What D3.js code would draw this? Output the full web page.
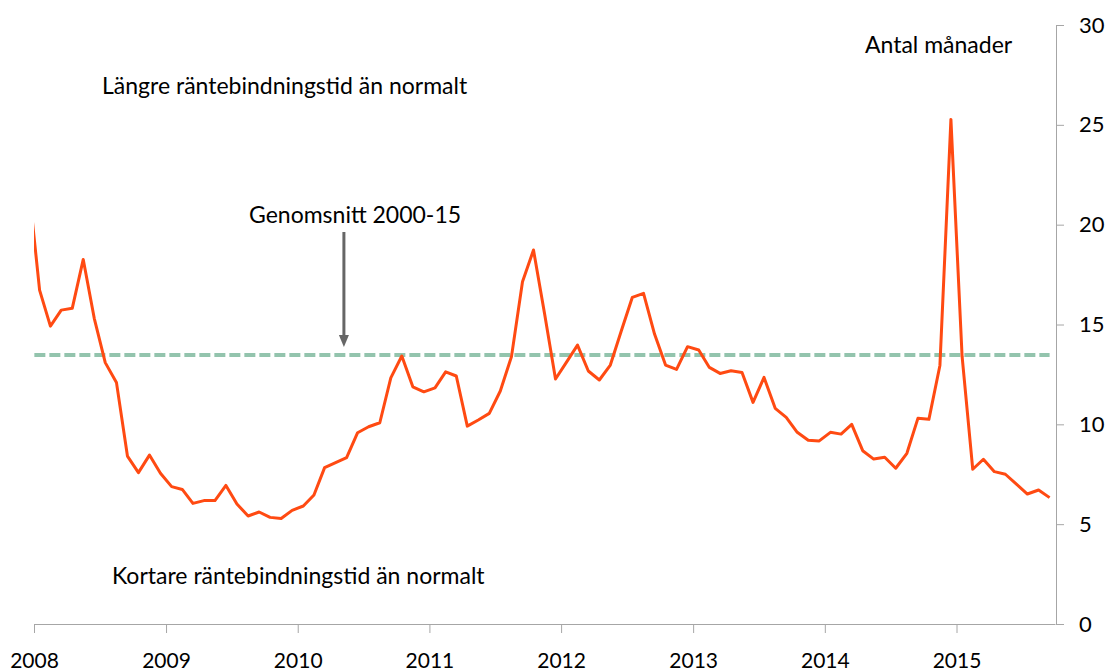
<html>
<head>
<meta charset="utf-8">
<script src="https://d3js.org/d3.v7.min.js"></script>
<style>
  body { margin: 0; background: #fff; }
  text { font-family: Lato, "Open Sans", sans-serif; fill: #000; }
</style>
</head>
<body>
<svg id="chart" width="1113" height="671"></svg>
<script>
// monthly series, first value is Dec 2007 (only its clipped edge shows)
var firstMonth = new Date(2007, 11, 1);
var values = [
  22.1,
  16.72, 14.92, 15.72, 15.81, 18.26, 15.31, 13.09, 12.10, 8.41, 7.58, 8.46, 7.55,
  6.88, 6.74, 6.04, 6.18, 6.18, 6.94, 6.01, 5.41, 5.61, 5.34, 5.28, 5.69,
  5.91, 6.46, 7.83, 8.08, 8.33, 9.58, 9.88, 10.08, 12.33, 13.42, 11.88, 11.63,
  11.83, 12.63, 12.42, 9.91, 10.22, 10.55, 11.67, 13.39, 17.14, 18.73, 15.56, 12.27,
  13.13, 13.97, 12.67, 12.22, 12.97, 14.69, 16.36, 16.56, 14.52, 12.97, 12.75, 13.89,
  13.72, 12.85, 12.55, 12.68, 12.60, 11.10, 12.35, 10.80, 10.35, 9.60, 9.20, 9.17,
  9.60, 9.51, 10.00, 8.68, 8.26, 8.35, 7.80, 8.55, 10.30, 10.25, 12.95, 25.27,
  13.40, 7.75, 8.25, 7.63, 7.50, 7.01, 6.51, 6.71, 6.33
];
var average = 13.47;   // Genomsnitt 2000-15
var years = [2008, 2009, 2010, 2011, 2012, 2013, 2014, 2015];
var yTicks = [0, 5, 10, 15, 20, 25, 30];

var svg = d3.select("#chart");

var x = d3.scaleTime()
  .domain([new Date(2008, 0, 1), new Date(2015, 9, 1)])
  .range([34, 1055]);
var y = d3.scaleLinear().domain([0, 30]).range([624, 25]);

function midMonth(d) {
  return new Date((+d + +d3.timeMonth.offset(d, 1)) / 2);
}

var data = values.map(function(v, i) {
  return { date: midMonth(d3.timeMonth.offset(firstMonth, i)), value: v };
});

svg.append("clipPath").attr("id", "plotClip")
  .append("rect")
  .attr("x", x.range()[0]).attr("y", 0)
  .attr("width", x.range()[1] - x.range()[0]).attr("height", 671);

// axes
var xAxis = svg.append("g")
  .attr("transform", "translate(0," + y(0) + ")")
  .call(d3.axisBottom(x)
    .tickValues(years.map(function(yr) { return new Date(yr, 0, 1); }))
    .tickFormat(d3.timeFormat("%Y"))
    .tickSize(9).tickSizeOuter(0).tickPadding(20));
xAxis.selectAll("text").style("font-size", "21px");

var yAxis = svg.append("g")
  .attr("transform", "translate(1056,0)")
  .call(d3.axisRight(y).tickValues(yTicks).tickSize(8).tickSizeOuter(0).tickPadding(15));
yAxis.selectAll("text").style("font-size", "22px");

svg.selectAll(".domain, .tick line").attr("stroke", "#a6a6a6").attr("stroke-width", 1);
svg.selectAll(".tick text").attr("fill", "#000");

// average line
svg.append("line")
  .attr("x1", x(new Date(2008, 0, 2))).attr("x2", x(data[data.length - 1].date))
  .attr("y1", y(average)).attr("y2", y(average))
  .attr("stroke", "#93c4ad").attr("stroke-width", 4)
  .attr("stroke-dasharray", "11,4");

// series
var line = d3.line()
  .x(function(d) { return x(d.date); })
  .y(function(d) { return y(d.value); });

svg.append("path")
  .datum(data)
  .attr("clip-path", "url(#plotClip)")
  .attr("fill", "none")
  .attr("stroke", "#ff4a12")
  .attr("stroke-width", 3)
  .attr("stroke-linejoin", "round")
  .attr("d", line);

// arrow to the average line
var arrowX = x(new Date(2010, 4, 9));
svg.append("line")
  .attr("x1", arrowX).attr("x2", arrowX)
  .attr("y1", 232).attr("y2", 338)
  .attr("stroke", "#666").attr("stroke-width", 3);
svg.append("path")
  .attr("d", "M" + (arrowX - 5) + ",335 L" + (arrowX + 5) + ",335 L" + arrowX + ",347 Z")
  .attr("fill", "#666");

// annotations
function label(txt, xPos, yPos) {
  svg.append("text").attr("x", xPos).attr("y", yPos)
    .style("font-size", "23px").text(txt);
}
label("Längre räntebindningstid än normalt", 102, 94);
label("Genomsnitt 2000-15", 249, 223);
label("Kortare räntebindningstid än normalt", 112, 584);
label("Antal månader", 865, 53);
</script>
</body>
</html>
